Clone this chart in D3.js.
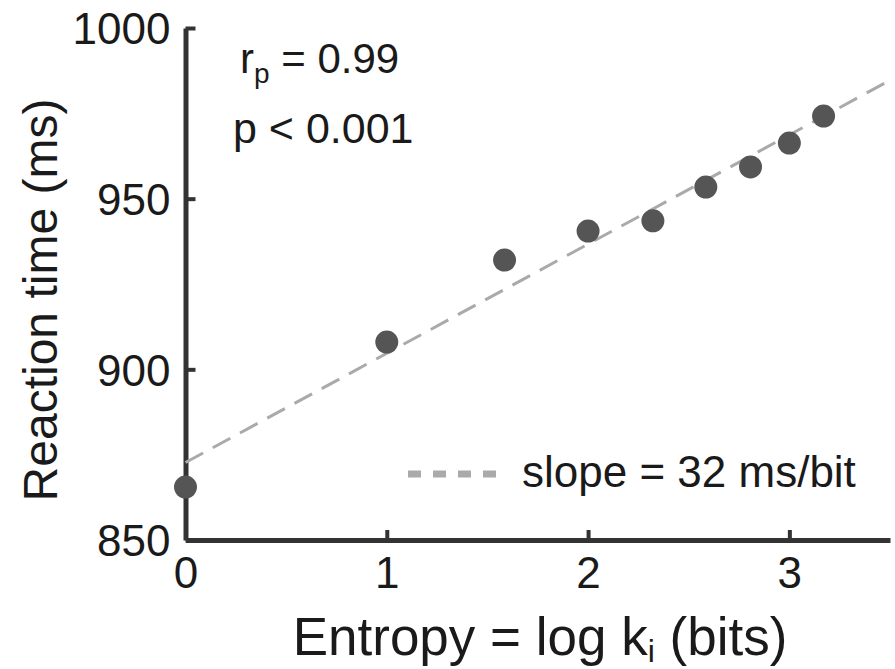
<!DOCTYPE html>
<html>
<head>
<meta charset="utf-8">
<style>
body { margin: 0; background: #fff; }
text { font-family: "Liberation Sans", Arial, sans-serif; fill: #1a1a1a; }
</style>
<script src="https://cdn.jsdelivr.net/npm/d3@7"></script>
</head>
<body>
<div id="chart"></div>
<script>
// entropy (bits) = log2(k), k = 1..9
var entropy = [0, 1, 1.585, 2, 2.322, 2.585, 2.807, 3, 3.17];
var rt = [865.5, 908, 932, 940.5, 943.5, 953.4, 959.3, 966.3, 974.2];
var fitLine = [{x: 0, y: 872.7}, {x: 3.485, y: 984.2}];
var xTicks = [0, 1, 2, 3];
var yTicks = [850, 900, 950, 1000];

var W = 895, H = 669;

var svg = d3.select('#chart').append('svg')
    .attr('width', W)
    .attr('height', H);

var x = d3.scaleLinear().domain([0, 3.5]).range([185.5, 890]);
var y = d3.scaleLinear().domain([850, 1000]).range([540, 28]);

// axes
var yAxis = svg.append('g')
    .attr('transform', 'translate(' + x(0) + ',0)')
    .call(d3.axisLeft(y).tickValues(yTicks).tickFormat(d3.format('d'))
      .tickSizeInner(-10).tickSizeOuter(0).tickPadding(15));

var xAxis = svg.append('g')
    .attr('transform', 'translate(0,' + y(850) + ')')
    .call(d3.axisBottom(x).tickValues(xTicks).tickFormat(d3.format('d'))
      .tickSizeInner(-10).tickSizeOuter(0).tickPadding(16));

[yAxis, xAxis].forEach(function(ax) {
  ax.select('.domain').attr('stroke', '#333').attr('stroke-width', 5);
  ax.selectAll('.tick line').attr('stroke', '#333').attr('stroke-width', 4);
  ax.selectAll('.tick text')
    .style('font-family', '"Liberation Sans", Arial, sans-serif')
    .style('font-size', '44px')
    .attr('fill', '#1a1a1a');
});
yAxis.selectAll('.tick text').attr('dy', '0.36em');
xAxis.selectAll('.tick text').attr('dy', '0.73em');

// fit line
svg.append('line')
    .attr('x1', x(fitLine[0].x)).attr('y1', y(fitLine[0].y))
    .attr('x2', x(fitLine[1].x)).attr('y2', y(fitLine[1].y))
    .attr('stroke', '#aaa')
    .attr('stroke-width', 3)
    .attr('stroke-dasharray', '20,11');

// points
svg.selectAll('circle.pt')
    .data(entropy)
    .enter().append('circle')
    .attr('class', 'pt')
    .attr('cx', function(d) { return x(d); })
    .attr('cy', function(d, i) { return y(rt[i]); })
    .attr('r', 11.5)
    .attr('fill', '#555');

// stats text
var t1 = svg.append('text').attr('x', 240).attr('y', 73).style('font-size', '42px');
t1.append('tspan').text('r');
t1.append('tspan').attr('dy', 10).style('font-size', '28px').text('p');
t1.append('tspan').attr('dy', -10).text(' = 0.99');

svg.append('text').attr('x', 233).attr('y', 143).style('font-size', '43px').text('p < 0.001');

// legend
svg.append('line')
    .attr('x1', 408).attr('x2', 500)
    .attr('y1', 474).attr('y2', 474)
    .attr('stroke', '#aaa')
    .attr('stroke-width', 7)
    .attr('stroke-dasharray', '13,12');
svg.append('text').attr('x', 522).attr('y', 487).style('font-size', '44px').text('slope = 32 ms/bit');

// axis labels
var xl = svg.append('text')
    .attr('x', 540).attr('y', 655)
    .attr('text-anchor', 'middle')
    .style('font-size', '53px');
xl.append('tspan').text('Entropy = log k');
xl.append('tspan').attr('dy', 7).style('font-size', '32px').text('i');
xl.append('tspan').attr('dy', -7).text(' (bits)');

svg.append('text')
    .attr('transform', 'translate(57,300) rotate(-90)')
    .attr('text-anchor', 'middle')
    .style('font-size', '48px')
    .text('Reaction time (ms)');
</script>
</body>
</html>
